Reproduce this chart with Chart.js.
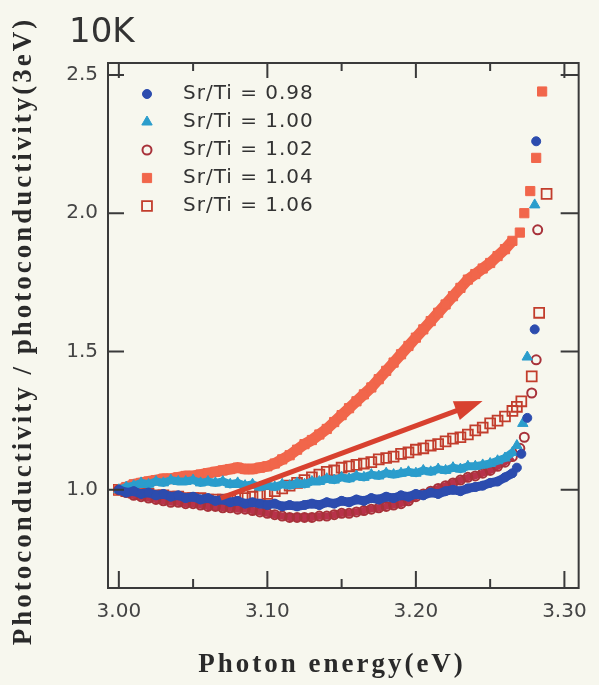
<!DOCTYPE html>
<html>
<head>
<meta charset="utf-8">
<script src="https://cdn.jsdelivr.net/npm/chart.js@4.4.0/dist/chart.umd.min.js"></script>
<style>
  html, body { margin: 0; padding: 0; background: #f7f7ee; }
  #wrap { width: 599px; height: 685px; }
</style>
</head>
<body>
<div id="wrap"><canvas id="pc" width="599" height="685"></canvas></div>
<script>
// photon energy (eV) for the dense part of each scan
const energy = [3.000,3.005,3.010,3.015,3.020,3.025,3.030,3.035,3.040,3.045,
  3.050,3.055,3.060,3.065,3.070,3.075,3.080,3.085,3.090,3.095,
  3.100,3.105,3.110,3.115,3.120,3.125,3.130,3.135,3.140,3.145,
  3.150,3.155,3.160,3.165,3.170,3.175,3.180,3.185,3.190,3.195,
  3.200,3.205,3.210,3.215,3.220,3.225,3.230,3.235,3.240,3.245,
  3.250,3.255,3.260,3.265];

const sr098 = [1.00,0.99,0.995,0.985,0.99,0.98,0.985,0.975,0.98,0.97,
  0.975,0.965,0.97,0.96,0.965,0.955,0.96,0.95,0.955,0.95,
  0.945,0.95,0.94,0.945,0.94,0.945,0.95,0.945,0.955,0.95,
  0.96,0.955,0.965,0.96,0.97,0.965,0.975,0.97,0.98,0.975,
  0.985,0.98,0.99,0.985,0.995,1.0,0.995,1.005,1.01,1.015,
  1.025,1.03,1.045,1.06];
const sr100 = [1.00,1.01,1.015,1.025,1.02,1.03,1.025,1.035,1.03,1.03,
  1.035,1.025,1.03,1.025,1.03,1.02,1.025,1.015,1.02,1.01,
  1.015,1.01,1.02,1.015,1.025,1.02,1.03,1.03,1.04,1.035,
  1.045,1.04,1.05,1.045,1.055,1.05,1.06,1.055,1.06,1.065,
  1.06,1.07,1.065,1.075,1.07,1.08,1.075,1.085,1.085,1.09,
  1.095,1.105,1.115,1.135];
const sr102 = [1.00,0.99,0.98,0.975,0.97,0.965,0.96,0.955,0.955,0.95,
  0.95,0.945,0.94,0.94,0.935,0.935,0.93,0.93,0.925,0.92,
  0.915,0.91,0.905,0.90,0.90,0.90,0.90,0.905,0.905,0.91,
  0.915,0.915,0.92,0.925,0.93,0.935,0.94,0.945,0.95,0.96,
  0.975,0.985,0.995,1.005,1.015,1.025,1.035,1.045,1.05,1.06,
  1.07,1.085,1.10,1.12];
const sr104 = [1.00,1.01,1.02,1.025,1.03,1.035,1.04,1.04,1.045,1.05,
  1.05,1.055,1.06,1.065,1.07,1.075,1.08,1.075,1.075,1.08,
  1.085,1.095,1.11,1.125,1.145,1.165,1.18,1.20,1.22,1.245,
  1.27,1.295,1.32,1.345,1.37,1.40,1.43,1.46,1.49,1.52,
  1.55,1.58,1.61,1.64,1.67,1.70,1.73,1.76,1.78,1.80,
  1.82,1.845,1.87,1.90];
const sr106 = [1.00,0.995,0.99,0.985,0.985,0.98,0.98,0.975,0.975,0.97,
  0.97,0.97,0.965,0.965,0.965,0.965,0.97,0.97,0.975,0.98,
  0.985,0.995,1.005,1.015,1.025,1.035,1.045,1.055,1.065,1.07,
  1.08,1.085,1.09,1.095,1.10,1.11,1.115,1.12,1.13,1.135,
  1.145,1.15,1.16,1.165,1.175,1.185,1.19,1.20,1.215,1.225,
  1.24,1.25,1.265,1.285];

// steep rise near the band edge: [energy, value]
const sr098Tail = [[3.268,1.08],[3.271,1.13],[3.275,1.26],[3.280,1.58],[3.281,2.26]];
const sr100Tail = [[3.268,1.16],[3.272,1.24],[3.275,1.48],[3.280,2.03]];
const sr102Tail = [[3.270,1.15],[3.273,1.19],[3.278,1.35],[3.281,1.47],[3.282,1.94]];
const sr104Tail = [[3.270,1.93],[3.273,2.00],[3.277,2.08],[3.281,2.20],[3.285,2.44]];
const sr106Tail = [[3.268,1.30],[3.271,1.32],[3.278,1.41],[3.283,1.64],[3.288,2.07]];

const seriesLabels = ["Sr/Ti = 0.98", "Sr/Ti = 1.00", "Sr/Ti = 1.02", "Sr/Ti = 1.04", "Sr/Ti = 1.06"];
const xTicks = [3.00, 3.10, 3.20, 3.30];
const xMinorTicks = [3.05, 3.15, 3.25];
const yTicks = [1.0, 1.5, 2.0, 2.5];
const arrowFrom = [3.0686, 0.970];
const arrowTo = [3.2449, 1.321];

function pts(vals, tail) {
  return energy.map((e, i) => ({x: e, y: vals[i]})).concat(tail.map(p => ({x: p[0], y: p[1]})));
}

const BG = "#f7f7ee";
const INK = "#3a3a3a";
const lastDense = energy[energy.length - 1];

// band line only along the dense scan, the sparse tail points stay separate
const bandOnly = {borderColor: c => c.p1.parsed.x > lastDense + 0.0005 ? "rgba(0,0,0,0)" : undefined};

const decorPlugin = {
  id: "decor",
  beforeDraw(chart) {
    const ctx = chart.ctx;
    ctx.save();
    ctx.fillStyle = BG;
    ctx.fillRect(0, 0, chart.width, chart.height);
    ctx.restore();
  },
  afterDatasetsDraw(chart) {
    // annotation arrow
    const ctx = chart.ctx, xs = chart.scales.x, ys = chart.scales.y;
    const x0 = xs.getPixelForValue(arrowFrom[0]), y0 = ys.getPixelForValue(arrowFrom[1]);
    const x1 = xs.getPixelForValue(arrowTo[0]), y1 = ys.getPixelForValue(arrowTo[1]);
    const a = Math.atan2(y1 - y0, x1 - x0);
    const hl = 28, hw = 10;
    const bx = x1 - hl * Math.cos(a), by = y1 - hl * Math.sin(a);
    ctx.save();
    ctx.strokeStyle = "#d8412f";
    ctx.fillStyle = "#d8412f";
    ctx.lineWidth = 5;
    ctx.beginPath();
    ctx.moveTo(x0, y0);
    ctx.lineTo(bx + 4 * Math.cos(a), by + 4 * Math.sin(a));
    ctx.stroke();
    ctx.beginPath();
    ctx.moveTo(x1, y1);
    ctx.lineTo(bx + hw * Math.sin(a), by - hw * Math.cos(a));
    ctx.lineTo(bx - hw * Math.sin(a), by + hw * Math.cos(a));
    ctx.closePath();
    ctx.fill();
    ctx.restore();
  },
  afterDraw(chart) {
    const ctx = chart.ctx, a = chart.chartArea, xs = chart.scales.x, ys = chart.scales.y;
    ctx.save();
    // frame
    ctx.strokeStyle = INK;
    ctx.lineWidth = 2;
    ctx.strokeRect(a.left, a.top, a.right - a.left, a.bottom - a.top);
    // inward ticks
    ctx.beginPath();
    xTicks.forEach(v => {
      const px = xs.getPixelForValue(v);
      ctx.moveTo(px, a.bottom); ctx.lineTo(px, a.bottom - 17);
      ctx.moveTo(px, a.top); ctx.lineTo(px, a.top + 15);
    });
    xMinorTicks.forEach(v => {
      const px = xs.getPixelForValue(v);
      ctx.moveTo(px, a.bottom); ctx.lineTo(px, a.bottom - 9);
      ctx.moveTo(px, a.top); ctx.lineTo(px, a.top + 8);
    });
    yTicks.forEach(v => {
      const py = ys.getPixelForValue(v);
      ctx.moveTo(a.left, py); ctx.lineTo(a.left + 16, py);
      ctx.moveTo(a.right, py); ctx.lineTo(a.right - 18, py);
    });
    ctx.stroke();

    // legend
    ctx.font = "20px 'DejaVu Sans'";
    ctx.textBaseline = "middle";
    ctx.textAlign = "left";
    chart.data.datasets.forEach((ds, i) => {
      const y = 94 + i * 28;
      ctx.save();
      ctx.fillStyle = ds.pointBackgroundColor;
      ctx.strokeStyle = ds.pointBorderColor;
      ctx.lineWidth = ds.pointBorderWidth;
      Chart.helpers.drawPoint(ctx, {pointStyle: ds.pointStyle, radius: ds.pointRadius, borderWidth: ds.pointBorderWidth, rotation: 0}, 147, y);
      ctx.restore();
      ctx.fillStyle = "#333";
      ctx.letterSpacing = "1px";
      ctx.fillText(seriesLabels[i], 183, y);
    });
    ctx.letterSpacing = "0px";

    // title
    ctx.fillStyle = "#333";
    ctx.font = "34px 'DejaVu Sans'";
    ctx.textBaseline = "alphabetic";
    ctx.fillText("10K", 69, 42);

    // axis titles
    ctx.fillStyle = "#2a2a2a";
    ctx.font = "bold 27px 'Liberation Serif'";
    ctx.letterSpacing = "3px";
    ctx.textAlign = "center";
    ctx.textBaseline = "middle";
    ctx.fillText("Photon energy(eV)", 332, 665);
    ctx.translate(24, 331);
    ctx.rotate(-Math.PI / 2);
    ctx.fillText("Photoconductivity / photoconductivity(3eV)", 0, 0);
    ctx.restore();
  }
};

document.addEventListener("DOMContentLoaded", function () {
  const canvas = document.getElementById("pc");
  new Chart(canvas, {
    type: "scatter",
    data: {
      datasets: [
        {label: seriesLabels[0], data: pts(sr098, sr098Tail), showLine: true, borderWidth: 9, borderColor: "#2c4cae", segment: bandOnly,
          pointStyle: "circle", pointRadius: 4.5, pointBackgroundColor: "#2c4cae", pointBorderColor: "#2c4cae", pointBorderWidth: 1},
        {label: seriesLabels[1], data: pts(sr100, sr100Tail), showLine: true, borderWidth: 8, borderColor: "#2b9dcc", segment: bandOnly,
          pointStyle: "triangle", pointRadius: 6, pointBackgroundColor: "#2b9dcc", pointBorderColor: "#2b9dcc", pointBorderWidth: 1},
        {label: seriesLabels[2], data: pts(sr102, sr102Tail), showLine: true, borderWidth: 7, borderColor: "#b8324a", segment: bandOnly,
          pointStyle: "circle", pointRadius: 4.5, pointBackgroundColor: "rgba(0,0,0,0)", pointBorderColor: "#a8323a", pointBorderWidth: 2},
        {label: seriesLabels[3], data: pts(sr104, sr104Tail), showLine: true, borderWidth: 11, borderColor: "#f1664b", segment: bandOnly,
          pointStyle: "rect", pointRadius: 6.5, pointBackgroundColor: "#f1664b", pointBorderColor: "#f1664b", pointBorderWidth: 1},
        {label: seriesLabels[4], data: pts(sr106, sr106Tail), showLine: false,
          pointStyle: "rect", pointRadius: 7, pointBackgroundColor: "rgba(0,0,0,0)", pointBorderColor: "#c23d2c", pointBorderWidth: 1.8}
      ]
    },
    options: {
      responsive: false,
      animation: false,
      layout: {padding: {top: 63, right: 11, left: 0, bottom: 0}},
      plugins: {legend: {display: false}, tooltip: {enabled: false}},
      scales: {
        x: {
          type: "linear", min: 2.9927, max: 3.3096,
          grid: {display: false, drawTicks: false}, border: {display: false},
          afterBuildTicks: s => { s.ticks = xTicks.map(v => ({value: v})); },
          afterFit: s => { s.height = 97; },
          ticks: {padding: 12, color: "#444", font: {family: "DejaVu Sans", size: 20}, maxRotation: 0, callback: v => Number(v).toFixed(2)}
        },
        y: {
          type: "linear", min: 0.645, max: 2.543,
          grid: {display: false, drawTicks: false}, border: {display: false},
          afterBuildTicks: s => { s.ticks = yTicks.map(v => ({value: v})); },
          afterFit: s => { s.width = 108; },
          ticks: {padding: 10, color: "#444", font: {family: "DejaVu Sans", size: 20}, callback: v => Number(v).toFixed(1)}
        }
      }
    },
    plugins: [decorPlugin]
  });
});
</script>
</body>
</html>
